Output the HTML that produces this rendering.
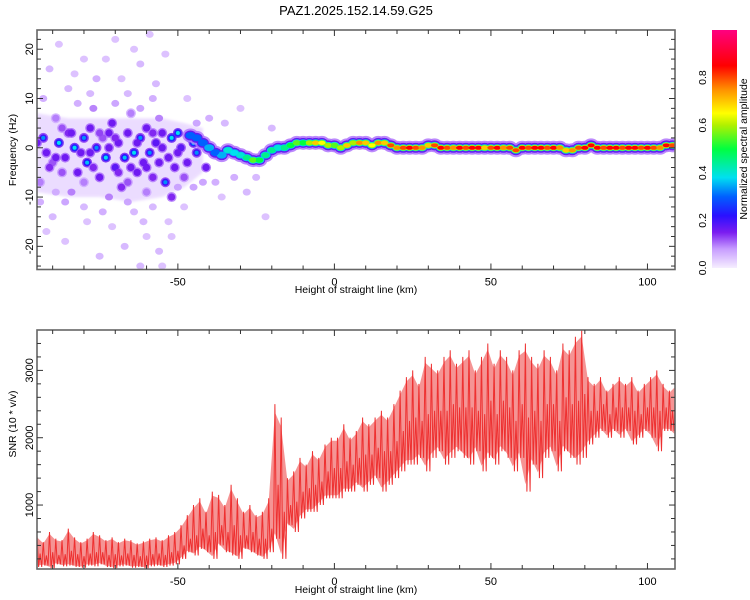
<!DOCTYPE html>
<html><head><meta charset="utf-8"><style>
body{margin:0;background:#fff}
svg{display:block;font-family:"Liberation Sans",sans-serif}
</style></head><body>
<svg id="c" width="750" height="600" viewBox="0 0 750 600">
<defs>
<linearGradient id="cb" x1="0" y1="1" x2="0" y2="0">
<stop offset="0" stop-color="#f6eeff"/><stop offset="0.08" stop-color="#c79cff"/><stop offset="0.15" stop-color="#7a1cf0"/>
<stop offset="0.22" stop-color="#2a10ff"/><stop offset="0.3" stop-color="#0060ff"/><stop offset="0.38" stop-color="#00e0f0"/>
<stop offset="0.5" stop-color="#00ff40"/><stop offset="0.6" stop-color="#b0f000"/><stop offset="0.65" stop-color="#ffff00"/>
<stop offset="0.75" stop-color="#ff9000"/><stop offset="0.85" stop-color="#ff0000"/><stop offset="1" stop-color="#ff0080"/>
</linearGradient>
<clipPath id="clipTop"><rect x="37" y="30" width="638" height="240"/></clipPath>
<clipPath id="clipBot"><rect x="37" y="330" width="638" height="239"/></clipPath>
<filter id="blur1"><feGaussianBlur stdDeviation="1.2"/></filter>
</defs>
<text x="356" y="15" font-size="13" text-anchor="middle">PAZ1.2025.152.14.59.G25</text>
<g id="topPlot" clip-path="url(#clipTop)"></g>
<g id="botPlot" clip-path="url(#clipBot)"></g>
<g id="axes"></g>
<rect x="712" y="30" width="25" height="238" fill="url(#cb)"/>
<text transform="translate(747,149) rotate(-90)" font-size="10.5" text-anchor="middle">Normalized spectral amplitude</text>
<text transform="translate(16,150) rotate(-90)" font-size="10.5" text-anchor="middle">Frequency (Hz)</text>
<text transform="translate(16,424) rotate(-90)" font-size="10.5" text-anchor="middle">SNR (10 * v/v)</text>
<text x="356" y="293" font-size="10.5" text-anchor="middle">Height of straight line (km)</text>
<text x="356" y="593" font-size="10.5" text-anchor="middle">Height of straight line (km)</text>
</svg>
<script>
const xTicks=[-50,0,50,100];
const topYTicks=[-20,-10,0,10,20];
const botYTicks=[1000,2000,3000];
const cbTicks=[0.0,0.2,0.4,0.6,0.8];
const bandKm=[-95,-85,-75,-65,-55,-48,-42];
const bandLo=[-9,-10,-10,-11,-10,-8,-5];
const bandHi=[7,6,6,6,6,5,4];
const bandAmp=[0.05,0.05,0.05,0.05,0.05,0.05,0.05];
const blobs=[[-93,2,0.25],[-92,-1,0.2],[-90,-3,0.15],[-88,1,0.3],[-86,-2,0.2],[-85,3,0.18],[-83,0,0.3],[-82,-5,0.2],[-80,2,0.25],[-79,-3,0.28],[-78,4,0.2],[-76,0,0.25],[-75,-6,0.2],[-74,2,0.15],[-73,-2,0.3],[-71,5,0.2],[-70,-4,0.22],[-69,1,0.2],[-68,-8,0.18],[-67,-2,0.28],[-66,3,0.2],[-64,-1,0.3],[-63,-5,0.2],[-62,2,0.25],[-61,-3,0.2],[-60,4,0.2],[-59,-1,0.25],[-58,-6,0.18],[-57,1,0.22],[-56,-3,0.2],[-55,3,0.2],[-54,-7,0.25],[-53,-2,0.2],[-52,2,0.3],[-51,-4,0.2],[-50,3,0.3],[-49,0,0.22],[-47,-3,0.2],[-46,2,0.3],[-44,-1,0.25],[-43,1,0.28],[-41,-4,0.2],[-94,-7,0.12],[-89,6,0.12],[-84,-9,0.1],[-77,8,0.1],[-72,-10,0.1],[-65,7,0.12],[-60,-9,0.12],[-56,6,0.1],[-52,-10,0.18],[-48,-6,0.15],[-80,-7,0.12],[-87,4,0.15],[-91,-4,0.18],[-77,-4,0.18],[-65,-4,0.2],[-72,3,0.2],[-84,3,0.2],[-58,3,0.18],
[-95,1,0.2],[-89,-2,0.2],[-81,-1,0.2],[-78,-1,0.2],[-72,0,0.2],[-69,-5,0.18],[-63,1,0.2],[-60,-4,0.2],[-55,0,0.2],[-50,-1,0.2],[-45,1,0.3],[-87,-5,0.15],[-75,3,0.16],[-66,-7,0.15],[-70,2,0.18],
[-91,16,0.06],[-88,21,0.05],[-85,12,0.06],[-80,18,0.05],[-76,14,0.07],[-70,22,0.05],[-66,11,0.06],[-62,17,0.06],[-59,23,0.05],[-57,13,0.06],[-54,19,0.05],[-90,-14,0.06],[-86,-19,0.05],[-80,-12,0.06],[-75,-22,0.06],[-71,-16,0.05],[-67,-20,0.06],[-64,-13,0.06],[-62,-24,0.06],[-60,-18,0.05],[-56,-21,0.06],[-53,-15,0.05],[-48,-12,0.05],[-45,-8,0.08],[-40,6,0.07],[-38,-7,0.07],[-35,5,0.06],[-32,-6,0.07],[-28,-9,0.06],[-22,-14,0.05],[-20,4,0.06],[-62,8,0.08],[-70,9,0.08],[-82,9,0.07],[-93,10,0.07],[-86,-11,0.08],[-74,-13,0.07],[-66,-11,0.08],[-58,10,0.07],[-50,-8,0.08],[-44,5,0.08],[-42,-7,0.08],[-94,-11,0.07],[-78,11,0.06],
[-92,-17,0.05],[-83,15,0.05],[-73,18,0.05],[-68,14,0.05],[-61,-15,0.06],[-58,-12,0.06],[-64,20,0.05],[-55,-24,0.05],[-52,-18,0.05],[-47,10,0.05],[-36,-10,0.05],[-30,8,0.05],[-25,-6,0.06],[-89,-9,0.07],[-79,-15,0.05]];
const trackKm=[-46,-44,-42,-40,-38,-36,-34,-32,-30,-28,-26,-24,-22,-20,-18,-16,-14,-12,-10,-8,-6,-4,-2,0,2,4,6,8,10,12,14,16,18,20,22,24,26,28,30,32,34,36,38,40,42,44,46,48,50,52,54,56,58,60,62,64,66,68,70,72,74,76,78,80,82,84,86,88,90,92,94,96,98,100,102,104,106,108];
const trackFreq=[2.5,2,1,0,-1,-1.5,-0.5,-1,-1.5,-2,-2.5,-2.5,-1.5,-0.5,0,0,0.5,1,1,1,1,1,0.5,0.5,0,0.5,1,1,1,0.5,1,1,0.5,0,0,0,0,0,0.5,0.5,0,0,0,0,0,0,0,0,0,0,0,0,-0.5,0,0,0,0,0,0,0,-0.5,-0.5,0,0,0.5,0,0,0,0,0,0,0,0,0,0,0,0.5,0.5];
const trackAmp=[0.3,0.3,0.3,0.35,0.3,0.35,0.4,0.38,0.4,0.45,0.55,0.5,0.45,0.45,0.4,0.45,0.5,0.55,0.5,0.6,0.7,0.65,0.6,0.55,0.6,0.7,0.6,0.75,0.7,0.65,0.75,0.7,0.8,0.75,0.8,0.85,0.8,0.75,0.7,0.8,0.85,0.8,0.75,0.85,0.8,0.85,0.85,0.7,0.8,0.85,0.75,0.8,0.8,0.85,0.8,0.85,0.85,0.8,0.85,0.75,0.7,0.75,0.8,0.85,0.85,0.85,0.8,0.85,0.85,0.8,0.85,0.85,0.8,0.85,0.8,0.75,0.85,0.8];
const snrKmStart=-95, snrKmStep=2;
const snrHi=[550,450,600,500,480,650,520,450,500,600,550,480,520,450,500,480,430,460,500,520,480,550,600,
700,850,1000,1100,900,1200,1150,1000,1300,1100,900,1000,850,900,1100,
2500,2300,1400,1500,1700,1600,1800,1700,1900,2000,
2000,2200,2000,2100,2300,2200,2300,2400,2300,2500,
2700,2900,3000,2800,3200,3100,3000,3200,3300,3100,
3200,3300,3000,3200,3400,3100,3300,3200,3000,3300,3400,3200,3100,3300,3200,3000,3400,3300,3500,3600,
2900,2800,2900,2700,2800,2900,2800,2900,2700,2800,2900,3000,2800,2700,2800];
const snrLo=[80,100,60,120,90,100,80,70,100,90,120,80,60,90,100,70,80,60,90,100,80,100,120,
200,300,250,350,300,200,400,300,250,200,350,300,250,200,300,
500,200,700,600,800,900,900,1000,1100,1100,
1100,1200,1200,1300,1200,1300,1400,1200,1300,1400,
1500,1600,1600,1700,1500,1700,1800,1600,1700,1800,
1700,1600,1800,1500,1700,1600,1800,1700,1500,1700,1200,1600,1400,1700,1800,1500,1800,1700,1600,1700,
1900,2000,2100,2000,2100,2000,2100,1900,2000,2100,2000,1800,2100,2100,2000];
const snrMid=[280,250,300,260,270,320,270,240,280,300,300,260,270,250,280,260,240,250,270,280,260,300,320,
400,500,550,650,550,600,700,600,700,550,550,600,500,500,650,
1300,900,1000,1050,1200,1250,1300,1350,1500,1550,
1550,1650,1600,1700,1750,1750,1850,1800,1800,1950,
2100,2250,2300,2250,2350,2400,2400,2400,2500,2450,
2450,2450,2400,2350,2550,2350,2550,2450,2250,2500,2300,2400,2250,2500,2500,2250,2600,2500,2550,2650,
2400,2400,2500,2350,2450,2450,2450,2400,2350,2450,2450,2400,2450,2400,2400];

const NS='http://www.w3.org/2000/svg';
const X0=37,X1=675,KM0=-95,KM1=108.8;
const xs=v=>X0+(v-KM0)/(KM1-KM0)*(X1-X0);
const TY0=30,TY1=269.5,HZ0=23.9,HZ1=-24.7;
const yt=v=>TY0+(HZ0-v)/(HZ0-HZ1)*(TY1-TY0);
const BY0=330,BY1=569,S0=3600,S1=50;
const yb=v=>BY0+(S0-v)/(S0-S1)*(BY1-BY0);
const stops=[[0,[246,238,255]],[0.08,[199,156,255]],[0.15,[122,28,240]],[0.22,[42,16,255]],[0.3,[0,96,255]],[0.38,[0,224,240]],[0.5,[0,255,64]],[0.6,[176,240,0]],[0.65,[255,255,0]],[0.75,[255,144,0]],[0.85,[255,0,0]],[1,[255,0,128]]];
function cmap(a){a=Math.max(0,Math.min(1,a));for(let i=1;i<stops.length;i++){if(a<=stops[i][0]){const[p0,c0]=stops[i-1],[p1,c1]=stops[i];const t=(a-p0)/(p1-p0);return 'rgb('+c0.map((c,k)=>Math.round(c+(c1[k]-c)*t)).join(',')+')';}}return 'rgb(255,0,128)';}
function mk(tag,attrs,parent){const e=document.createElementNS(NS,tag);for(const k in attrs)e.setAttribute(k,attrs[k]);parent.appendChild(e);return e;}
const topG=document.getElementById('topPlot'),botG=document.getElementById('botPlot'),axes=document.getElementById('axes');

let bp='';
bandKm.forEach((k,i)=>{bp+=(i?'L':'M')+xs(k)+','+yt(bandHi[i]);});
for(let i=bandKm.length-1;i>=0;i--)bp+='L'+xs(bandKm[i])+','+yt(bandLo[i]);
const band=mk('path',{d:bp+'Z',fill:cmap(bandAmp[0]),opacity:0.5,filter:'url(#blur1)'},topG);



const faint=blobs.filter(b=>b[2]<=0.1), strong=blobs.filter(b=>b[2]>0.1);
faint.forEach(b=>{
 const e=mk('ellipse',{cx:xs(b[0]),cy:yt(b[1]),rx:4,ry:3.5,fill:cmap(b[2]),opacity:0.9},topG);
 
 
});
strong.forEach(b=>{
 const e=mk('ellipse',{cx:xs(b[0]),cy:yt(b[1]),rx:5,ry:5,fill:cmap(b[2]*0.55),opacity:0.85},topG);
 
 
});
strong.forEach(b=>{
 const c=mk('ellipse',{cx:xs(b[0]),cy:yt(b[1]),rx:3.6,ry:3.6,fill:cmap(b[2]*0.8)},topG);
 
 
 if(b[2]>=0.25){const d=mk('ellipse',{cx:xs(b[0]),cy:yt(b[1]),rx:2,ry:2,fill:cmap(b[2]+0.08)},topG);
 
 }
});
[[8,14,a=>0.1,0.85],[6,10,a=>0.17,1],[5,7,a=>Math.min(a,0.3+a*0.15),1],[4,5.5,a=>Math.min(a,0.45+a*0.2),1],[3.6,4,a=>a,1]].forEach(L=>{
 trackKm.forEach((k,i)=>{
  const e=mk('ellipse',{cx:xs(k),cy:yt(trackFreq[i]),rx:L[0],ry:L[1]/2,fill:cmap(L[2](trackAmp[i])),opacity:L[3]},topG);
  
  
 });
});

let fp='';
snrHi.forEach((h,i)=>{const k=snrKmStart+i*snrKmStep;fp+=(i?'L':'M')+xs(k).toFixed(1)+','+yb(h*0.9+snrMid[i]*0.1).toFixed(1);});
for(let i=snrLo.length-1;i>=0;i--){const k=snrKmStart+i*snrKmStep;fp+='L'+xs(k).toFixed(1)+','+yb(snrLo[i]*0.9+snrMid[i]*0.1).toFixed(1);}
const fill=mk('path',{d:fp+'Z',fill:'#f27070',opacity:0.75},botG);


let d='';
snrHi.forEach((h,i)=>{const k=snrKmStart+i*snrKmStep;
 d+=(i?'L':'M')+xs(k).toFixed(1)+','+yb(h).toFixed(1);
 d+='L'+xs(k+0.5).toFixed(1)+','+yb(snrLo[i]).toFixed(1);
 d+='L'+xs(k+1).toFixed(1)+','+yb(snrMid[i]).toFixed(1);
 d+='L'+xs(k+1.5).toFixed(1)+','+yb(snrLo[i]).toFixed(1);});
const ln=mk('path',{d:d,fill:'none',stroke:'#ee3030','stroke-width':1},botG);



function frame(y0,y1,yfn,minorY,majorY,name){
 const r=mk('rect',{x:X0,y:y0,width:X1-X0,height:y1-y0,fill:'none',stroke:'#666','stroke-width':1.6},axes);
 
 
 for(let v=-90;v<=100;v+=10){const maj=v%50==0,L=maj?6:4;
  mk('line',{x1:xs(v),x2:xs(v),y1:y1,y2:y1-L,stroke:'#333'},axes);
  mk('line',{x1:xs(v),x2:xs(v),y1:y0,y2:y0+L,stroke:'#333'},axes);}
 minorY.forEach(v=>{const maj=majorY.includes(v),L=maj?6:4;const y=yfn(v);
  mk('line',{x1:X0,x2:X0+L,y1:y,y2:y,stroke:'#333'},axes);
  mk('line',{x1:X1,x2:X1-L,y1:y,y2:y,stroke:'#333'},axes);});
 xTicks.forEach(v=>{const t=mk('text',{x:xs(v),y:y1+16,'font-size':11,'text-anchor':'middle'},axes);t.textContent=v;
  
  });
}
const tm=[];for(let v=-24;v<=22;v+=2)tm.push(v);
frame(TY0,TY1,yt,tm,topYTicks,'top');
const bm=[];for(let v=200;v<=3400;v+=200)bm.push(v);
frame(BY0,BY1,yb,bm,botYTicks,'bottom');
topYTicks.forEach(v=>{const t=mk('text',{transform:`translate(33,${yt(v)}) rotate(-90)`,'font-size':11,'text-anchor':'middle'},axes);t.textContent=v;
 
 });
botYTicks.forEach(v=>{const t=mk('text',{transform:`translate(33,${yb(v)}) rotate(-90)`,'font-size':11,'text-anchor':'middle'},axes);t.textContent=v;
 
 });
cbTicks.forEach(v=>{const y=268-v*238;const t=mk('text',{transform:`translate(706,${y}) rotate(-90)`,'font-size':10.5,'text-anchor':'middle'},axes);t.textContent=v.toFixed(1);
 
 });
</script>
</body></html>
